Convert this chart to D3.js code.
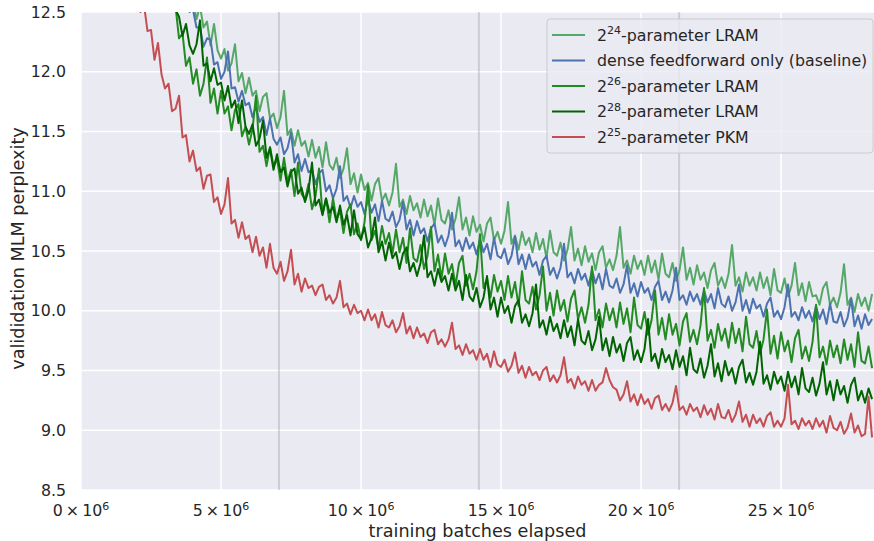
<!DOCTYPE html>
<html>
<head>
<meta charset="utf-8">
<script src="https://cdn.jsdelivr.net/npm/d3@7"></script>
<style>
  body { margin: 0; background: #fff; }
  text { font-family: "DejaVu Sans", sans-serif; fill: #262626; }
</style>
</head>
<body>
<svg id="chart" width="874" height="541"></svg>
<script>
// validation every 0.125M batches, each run starts at its own first value
var evalStep = 0.125e6;

var seriesLabels = [
  {base: "2", exp: "24", rest: "-parameter LRAM"},
  {base: "dense feedforward only (baseline)", exp: "", rest: ""},
  {base: "2", exp: "26", rest: "-parameter LRAM"},
  {base: "2", exp: "28", rest: "-parameter LRAM"},
  {base: "2", exp: "25", rest: "-parameter PKM"}
];
var seriesColors = ["#55a868", "#4c72b0", "#228b22", "#006400", "#c44e52"];
var seriesStarts = [4.0e6, 3.75e6, 3.25e6, 3.25e6, 2.0e6];

var lram24 = [
  12.60,12.44,12.55,12.37,12.42,12.22,12.40,12.18,
  12.11,12.19,12.01,12.07,12.23,11.92,11.99,11.82,
  11.95,11.80,11.84,11.67,11.79,11.82,11.61,11.65,
  11.53,11.62,11.84,11.47,11.52,11.38,11.51,11.38,
  11.42,11.29,11.43,11.28,11.37,11.20,11.41,11.22,
  11.18,11.28,11.11,11.19,11.36,11.06,11.15,10.99,
  11.14,11.01,11.07,10.92,11.06,11.11,10.92,10.98,
  10.88,10.99,11.23,10.87,10.93,10.81,10.96,10.84,
  10.90,10.78,10.93,10.79,10.88,10.72,10.94,10.76,
  10.73,10.84,10.68,10.77,10.95,10.68,10.78,10.63,
  10.79,10.66,10.72,10.58,10.73,10.78,10.59,10.66,
  10.56,10.67,10.91,10.56,10.63,10.51,10.66,10.55,
  10.61,10.49,10.65,10.51,10.60,10.44,10.67,10.49,
  10.46,10.57,10.42,10.51,10.70,10.42,10.52,10.38,
  10.54,10.41,10.48,10.34,10.49,10.54,10.36,10.43,
  10.34,10.46,10.70,10.36,10.42,10.31,10.46,10.35,
  10.42,10.30,10.46,10.32,10.42,10.26,10.48,10.31,
  10.28,10.40,10.25,10.34,10.53,10.26,10.36,10.22,
  10.38,10.26,10.32,10.19,10.34,10.40,10.21,10.28,
  10.19,10.31,10.55,10.21,10.28,10.16,10.32,10.21,
  10.28,10.17,10.32,10.19,10.28,10.13,10.35,10.17,
  10.15,10.27,10.12,10.21,10.40,10.13,10.23,10.08,
  10.24,10.12,10.13,10.05,10.19,10.24,10.05,10.11,
  10.03,10.15,10.39,10.05,10.11,9.99,10.14,10.04,
  10.11,10.00,10.14
];

var baseline = [
  12.62,12.50,
  12.52,12.37,12.37,12.21,12.28,12.27,12.06,12.08,
  11.94,12.00,12.17,11.86,11.87,11.75,11.84,11.72,
  11.74,11.62,11.71,11.58,11.62,11.47,11.61,11.44,
  11.39,11.45,11.31,11.36,11.49,11.24,11.31,11.17,
  11.27,11.16,11.18,11.06,11.15,11.18,11.00,11.05,
  10.94,11.02,11.21,10.92,10.96,10.86,10.96,10.87,
  10.91,10.81,10.93,10.82,10.89,10.75,10.92,10.77,
  10.75,10.83,10.70,10.76,10.91,10.68,10.76,10.63,
  10.75,10.65,10.69,10.58,10.69,10.73,10.57,10.63,
  10.54,10.63,10.82,10.54,10.59,10.50,10.61,10.52,
  10.57,10.47,10.60,10.49,10.56,10.43,10.61,10.46,
  10.44,10.52,10.39,10.46,10.62,10.39,10.47,10.35,
  10.47,10.37,10.41,10.30,10.42,10.46,10.30,10.36,
  10.27,10.36,10.56,10.28,10.32,10.23,10.35,10.26,
  10.31,10.21,10.34,10.23,10.31,10.18,10.35,10.21,
  10.19,10.27,10.15,10.22,10.38,10.15,10.23,10.12,
  10.24,10.15,10.19,10.09,10.20,10.25,10.09,10.16,
  10.07,10.17,10.36,10.09,10.13,10.05,10.16,10.08,
  10.14,10.05,10.17,10.07,10.14,10.02,10.19,10.06,
  10.03,10.12,10.00,10.07,10.22,10.00,10.09,9.98,
  10.10,10.02,10.05,9.95,10.06,10.11,9.95,10.00,
  9.93,10.03,10.22,9.95,9.99,9.92,10.03,9.94,
  10.00,9.91,10.04,9.93,10.01,9.89,10.06,9.91,
  9.90,9.99,9.87,9.94,10.10,9.87,9.96,9.85,
  9.97,9.88,9.93
];

var lram26 = [
  12.72,12.55,12.28,12.32,12.05,12.12,
  11.90,12.02,11.80,11.90,12.12,11.74,11.86,11.65,
  11.84,11.65,11.71,11.51,11.68,11.73,11.46,11.54,
  11.39,11.52,11.80,11.33,11.38,11.21,11.37,11.21,
  11.27,11.09,11.28,11.08,11.18,10.96,11.24,10.98,
  10.93,11.06,10.85,10.96,11.19,10.81,10.94,10.74,
  10.94,10.76,10.84,10.65,10.83,10.89,10.64,10.73,
  10.59,10.74,11.05,10.59,10.67,10.52,10.71,10.56,
  10.65,10.48,10.68,10.49,10.61,10.40,10.69,10.44,
  10.41,10.55,10.35,10.46,10.70,10.33,10.47,10.27,
  10.48,10.31,10.39,10.21,10.40,10.46,10.21,10.31,
  10.18,10.33,10.64,10.19,10.27,10.11,10.30,10.16,
  10.25,10.09,10.29,10.11,10.24,10.04,10.33,10.09,
  10.06,10.20,10.01,10.13,10.37,10.00,10.15,9.96,
  10.17,10.00,10.09,9.91,10.10,10.17,9.93,10.03,
  9.90,10.05,10.37,9.92,10.01,9.86,10.06,9.92,
  10.02,9.86,10.07,9.89,10.02,9.82,10.11,9.88,
  9.85,9.99,9.80,9.92,10.17,9.80,9.94,9.76,
  9.97,9.80,9.89,9.71,9.91,9.98,9.74,9.84,
  9.72,9.88,10.19,9.75,9.84,9.69,9.89,9.75,
  9.85,9.69,9.90,9.73,9.85,9.66,9.95,9.72,
  9.69,9.83,9.64,9.76,10.01,9.64,9.79,9.60,
  9.82,9.66,9.75,9.57,9.77,9.84,9.60,9.70,
  9.58,9.74,10.05,9.61,9.70,9.55,9.75,9.61,
  9.71,9.56,9.76,9.59,9.72,9.53,9.82,9.58,
  9.56,9.70,9.52
];

var lram28 = [
  12.78,12.52,12.46,12.30,12.40,12.22,
  12.15,12.23,12.43,12.05,12.07,11.92,12.03,11.89,
  11.91,11.76,11.88,11.70,11.76,11.57,11.76,11.54,
  11.48,11.56,11.38,11.44,11.59,11.28,11.36,11.18,
  11.31,11.16,11.20,11.04,11.16,11.19,10.98,11.03,
  10.91,11.01,11.24,10.88,10.93,10.80,10.94,10.82,
  10.87,10.74,10.88,10.72,10.80,10.63,10.84,10.64,
  10.60,10.70,10.53,10.61,10.78,10.49,10.58,10.42,
  10.57,10.44,10.49,10.35,10.48,10.53,10.33,10.40,
  10.29,10.40,10.63,10.28,10.33,10.21,10.35,10.24,
  10.29,10.17,10.31,10.17,10.25,10.09,10.30,10.12,
  10.08,10.19,10.03,10.11,10.29,10.01,10.11,9.95,
  10.11,9.98,10.04,9.90,10.04,10.09,9.90,9.97,
  9.87,9.98,10.22,9.86,9.92,9.80,9.95,9.83,
  9.89,9.77,9.92,9.78,9.87,9.71,9.93,9.75,
  9.72,9.83,9.67,9.76,9.95,9.67,9.77,9.62,
  9.78,9.65,9.72,9.58,9.73,9.78,9.59,9.67,
  9.57,9.68,9.93,9.58,9.64,9.52,9.68,9.57,
  9.63,9.51,9.67,9.53,9.62,9.46,9.69,9.51,
  9.48,9.60,9.44,9.54,9.72,9.45,9.56,9.41,
  9.58,9.46,9.52,9.39,9.53,9.59,9.40,9.48,
  9.38,9.49,9.74,9.39,9.46,9.34,9.49,9.39,
  9.45,9.33,9.49,9.36,9.45,9.30,9.52,9.35,
  9.32,9.44,9.29,9.39,9.57,9.30,9.41,9.25,
  9.42,9.30,9.37,9.23,9.38,9.44,9.25,9.33,
  9.23,9.35,9.26
];

var pkm25 = [
  12.70,12.50,12.56,12.34,12.35,12.10,12.24,11.98,
  11.86,11.90,11.67,11.69,11.80,11.45,11.47,11.25,
  11.34,11.17,11.20,11.02,11.13,11.14,10.91,10.95,
  10.81,10.89,11.11,10.73,10.76,10.61,10.74,10.60,
  10.63,10.49,10.62,10.46,10.53,10.36,10.56,10.36,
  10.31,10.41,10.25,10.33,10.51,10.22,10.31,10.16,
  10.27,10.19,10.21,10.13,10.20,10.22,10.09,10.13,
  10.06,10.11,10.25,10.03,10.06,9.97,10.05,9.98,
  10.00,9.92,10.01,9.92,9.97,9.86,9.99,9.88,
  9.86,9.92,9.82,9.87,9.98,9.81,9.87,9.77,
  9.86,9.78,9.81,9.73,9.82,9.84,9.72,9.76,
  9.70,9.76,9.90,9.68,9.71,9.63,9.72,9.64,
  9.67,9.59,9.68,9.59,9.64,9.53,9.66,9.55,
  9.53,9.59,9.49,9.54,9.65,9.48,9.54,9.44,
  9.53,9.46,9.49,9.42,9.50,9.53,9.41,9.46,
  9.40,9.46,9.61,9.40,9.43,9.35,9.45,9.38,
  9.41,9.33,9.42,9.33,9.38,9.40,9.52,9.42,
  9.36,9.34,9.25,9.30,9.41,9.24,9.30,9.21,
  9.30,9.22,9.26,9.18,9.27,9.29,9.17,9.22,
  9.16,9.23,9.37,9.17,9.20,9.13,9.22,9.16,
  9.19,9.11,9.21,9.13,9.18,9.09,9.22,9.11,
  9.10,9.17,9.07,9.13,9.24,9.07,9.13,9.03,
  9.13,9.06,9.10,9.03,9.12,9.15,9.03,9.08,
  9.03,9.10,9.38,9.05,9.08,9.01,9.10,9.04,
  9.08,9.01,9.10,9.03,9.08,8.98,9.12,9.02,
  9.00,9.07,8.97,9.02,9.14,8.98,9.04,8.95,
  8.97,9.28,8.94
];

var seriesValues = [lram24, baseline, lram26, lram28, pkm25];
var epochMarks = [7.07e6, 14.21e6, 21.36e6];
var xTicks = [0, 5e6, 10e6, 15e6, 20e6, 25e6];
var yTicks = [8.5, 9.0, 9.5, 10.0, 10.5, 11.0, 11.5, 12.0, 12.5];

var margin = {top: 12, right: 0, bottom: 51, left: 81};
var width = 874, height = 541;
var plotW = width - margin.left - margin.right;
var plotH = height - margin.top - margin.bottom;

var svg = d3.select("#chart");

var x = d3.scaleLinear().domain([0, 28.32e6]).range([margin.left, margin.left + plotW]);
var y = d3.scaleLinear().domain([8.5, 12.5]).range([margin.top + plotH, margin.top]);

// plot background
svg.append("rect")
  .attr("x", margin.left).attr("y", margin.top)
  .attr("width", plotW).attr("height", plotH)
  .attr("fill", "#eaeaf2");

svg.append("clipPath").attr("id", "plotClip")
  .append("rect")
  .attr("x", margin.left).attr("y", margin.top)
  .attr("width", plotW).attr("height", plotH);

// grid
svg.append("g").selectAll("line").data(yTicks).enter().append("line")
  .attr("x1", margin.left).attr("x2", margin.left + plotW)
  .attr("y1", function(d) { return y(d); }).attr("y2", function(d) { return y(d); })
  .attr("stroke", "#fff").attr("stroke-width", 1.5);
svg.append("g").selectAll("line").data(xTicks).enter().append("line")
  .attr("y1", margin.top).attr("y2", margin.top + plotH)
  .attr("x1", function(d) { return x(d); }).attr("x2", function(d) { return x(d); })
  .attr("stroke", "#fff").attr("stroke-width", 1.5);

// epoch marks
svg.append("g").selectAll("line").data(epochMarks).enter().append("line")
  .attr("y1", margin.top).attr("y2", margin.top + plotH)
  .attr("x1", function(d) { return x(d); }).attr("x2", function(d) { return x(d); })
  .attr("stroke", "#a0a0a8").attr("stroke-opacity", 0.4).attr("stroke-width", 2);

// lines
var line = d3.line()
  .x(function(d) { return x(d[0]); })
  .y(function(d) { return y(d[1]); });

var lines = svg.append("g").attr("clip-path", "url(#plotClip)");
seriesValues.forEach(function(vals, i) {
  var pts = vals.map(function(v, j) { return [seriesStarts[i] + j * evalStep, v]; });
  lines.append("path")
    .datum(pts)
    .attr("d", line)
    .attr("fill", "none")
    .attr("stroke", seriesColors[i])
    .attr("stroke-width", 2)
    .attr("stroke-linejoin", "round");
});

// y axis labels
svg.append("g").selectAll("text").data(yTicks).enter().append("text")
  .attr("x", margin.left - 15)
  .attr("y", function(d) { return y(d) + 5.6; })
  .attr("text-anchor", "end")
  .attr("font-size", "15.8px")
  .text(function(d) { return d3.format(".1f")(d); });

// x axis labels with 10^6
var xl = svg.append("g").selectAll("text").data(xTicks).enter().append("text")
  .attr("x", function(d) { return x(d); })
  .attr("y", 516)
  .attr("text-anchor", "middle")
  .attr("font-size", "15.8px");
xl.append("tspan").text(function(d) { return (d / 1e6) + "\u2009\u00d7\u200910"; });
xl.append("tspan").attr("dy", -6.5).attr("font-size", "11px").text("6");

svg.append("text")
  .attr("x", margin.left + plotW / 2)
  .attr("y", 537)
  .attr("text-anchor", "middle")
  .attr("font-size", "17.6px")
  .text("training batches elapsed");

svg.append("text")
  .attr("transform", "translate(24,248.5) rotate(-90)")
  .attr("text-anchor", "middle")
  .attr("font-size", "17.6px")
  .text("valididation MLM perplexity");

// legend
var legend = svg.append("g");
legend.append("rect")
  .attr("x", 547).attr("y", 19)
  .attr("width", 326).attr("height", 134)
  .attr("rx", 3)
  .attr("fill", "#eaeaf2").attr("fill-opacity", 0.8)
  .attr("stroke", "#cccccc").attr("stroke-width", 1);

seriesLabels.forEach(function(lab, i) {
  var ly = 35 + i * 25.5;
  legend.append("line")
    .attr("x1", 552).attr("x2", 585)
    .attr("y1", ly).attr("y2", ly)
    .attr("stroke", seriesColors[i]).attr("stroke-width", 2);
  var t = legend.append("text")
    .attr("x", 597).attr("y", ly + 5.5)
    .attr("font-size", "15.8px");
  t.append("tspan").text(lab.base);
  if (lab.exp) {
    t.append("tspan").attr("dy", -6.5).attr("font-size", "11px").text(lab.exp);
    t.append("tspan").attr("dy", 6.5).text(lab.rest);
  }
});
</script>
</body>
</html>
